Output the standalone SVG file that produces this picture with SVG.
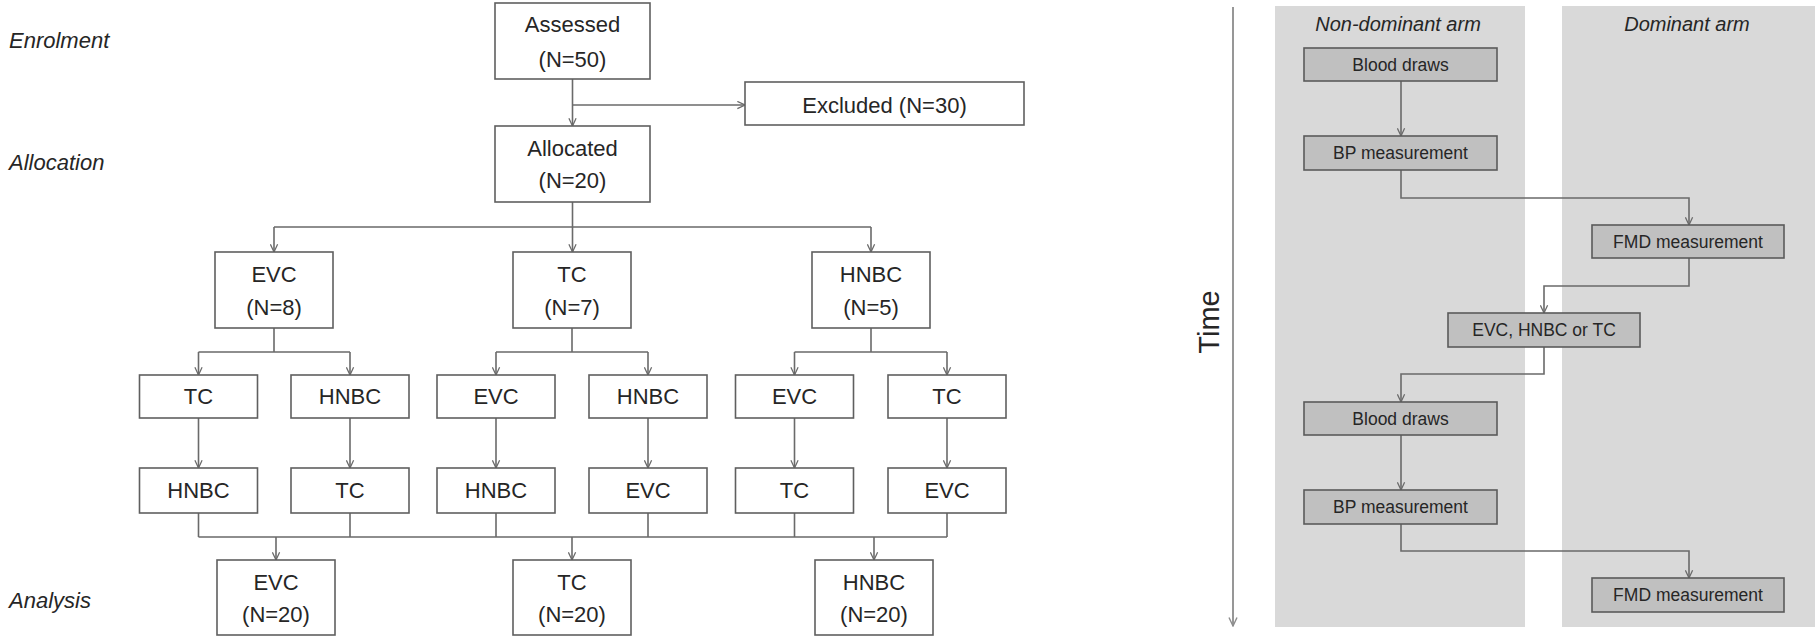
<svg xmlns="http://www.w3.org/2000/svg" width="1815" height="636" viewBox="0 0 1815 636">
<style>
.bg{fill:#ffffff}
.box{fill:#ffffff;stroke:#5f5f5f;stroke-width:1.6}
.gbox{fill:#c0c0c0;stroke:#5a5a5a;stroke-width:1.6}
.lane{fill:#d9d9d9}
.t{font-family:"Liberation Sans",Arial,sans-serif;font-size:22px;fill:#262626;text-anchor:middle}
.ts{font-family:"Liberation Sans",Arial,sans-serif;font-size:17.5px;fill:#262626;text-anchor:middle}
.lab{font-family:"Liberation Sans",Arial,sans-serif;font-size:22px;font-style:italic;fill:#262626}
.lane-lab{font-family:"Liberation Sans",Arial,sans-serif;font-size:20px;font-style:italic;fill:#262626;text-anchor:middle}
.ln{fill:none;stroke:#6a6a6a;stroke-width:1.6}
.la{fill:none;stroke:#6a6a6a;stroke-width:1.6;marker-end:url(#arr)}
.axis{fill:none;stroke:#8c8c8c;stroke-width:1.8;marker-end:url(#arr2)}
</style>
<defs>
<marker id="arr" viewBox="0 0 10 10" refX="9.5" refY="5" markerWidth="9" markerHeight="9" markerUnits="userSpaceOnUse" orient="auto">
<path d="M1,1 L9.5,5 L1,9" fill="none" stroke="#6a6a6a" stroke-width="1.4"/>
</marker>
<marker id="arr2" viewBox="0 0 10 10" refX="9.5" refY="5" markerWidth="10" markerHeight="10" markerUnits="userSpaceOnUse" orient="auto">
<path d="M1,1 L9.5,5 L1,9" fill="none" stroke="#8c8c8c" stroke-width="1.4"/>
</marker>
</defs>
<rect class="bg" x="0" y="0" width="1815" height="636"/>

<g id="stage-labels">
<text class="lab" x="9" y="48">Enrolment</text>
<text class="lab" x="9" y="170">Allocation</text>
<text class="lab" x="9" y="608">Analysis</text>
</g>

<g id="connectors">
<path class="la" d="M572.5,79 V126"/>
<path class="la" d="M572.5,105 H745"/>
<path class="ln" d="M572.5,202 V227 M274,227 H871"/>
<path class="la" d="M274,227 V252"/>
<path class="la" d="M572.5,227 V252"/>
<path class="la" d="M871,227 V252"/>
<path class="ln" d="M274,328 V352 M198.5,352 H350"/>
<path class="ln" d="M572,328 V352 M496,352 H648"/>
<path class="ln" d="M871,328 V352 M794.5,352 H947"/>
<path class="la" d="M198.5,352 V375"/>
<path class="la" d="M350,352 V375"/>
<path class="la" d="M496,352 V375"/>
<path class="la" d="M648,352 V375"/>
<path class="la" d="M794.5,352 V375"/>
<path class="la" d="M947,352 V375"/>
<path class="la" d="M198.5,418 V468"/>
<path class="la" d="M350,418 V468"/>
<path class="la" d="M496,418 V468"/>
<path class="la" d="M648,418 V468"/>
<path class="la" d="M794.5,418 V468"/>
<path class="la" d="M947,418 V468"/>
<path class="ln" d="M198.5,513 V537 M350,513 V537 M496,513 V537 M648,513 V537 M794.5,513 V537 M947,513 V537 M198.5,537 H947"/>
<path class="la" d="M276,537 V560"/>
<path class="la" d="M572,537 V560"/>
<path class="la" d="M874,537 V560"/>
</g>

<g id="assessed"><rect class="box" x="495" y="3" width="155" height="76"/><text class="t" x="572.5" y="32">Assessed</text><text class="t" x="572.5" y="67">(N=50)</text></g>
<g id="excluded"><rect class="box" x="745" y="82" width="279" height="43"/><text class="t" x="884.5" y="113">Excluded (N=30)</text></g>
<g id="allocated"><rect class="box" x="495" y="126" width="155" height="76"/><text class="t" x="572.5" y="156">Allocated</text><text class="t" x="572.5" y="188">(N=20)</text></g>

<g id="evc-n8"><rect class="box" x="215" y="252" width="118" height="76"/><text class="t" x="274" y="282">EVC</text><text class="t" x="274" y="315">(N=8)</text></g>
<g id="tc-n7"><rect class="box" x="513" y="252" width="118" height="76"/><text class="t" x="572" y="282">TC</text><text class="t" x="572" y="315">(N=7)</text></g>
<g id="hnbc-n5"><rect class="box" x="812" y="252" width="118" height="76"/><text class="t" x="871" y="282">HNBC</text><text class="t" x="871" y="315">(N=5)</text></g>

<g id="l3-tc-1"><rect class="box" x="139.5" y="375" width="118" height="43"/><text class="t" x="198.5" y="404">TC</text></g>
<g id="l3-hnbc-1"><rect class="box" x="291" y="375" width="118" height="43"/><text class="t" x="350" y="404">HNBC</text></g>
<g id="l3-evc-2"><rect class="box" x="437" y="375" width="118" height="43"/><text class="t" x="496" y="404">EVC</text></g>
<g id="l3-hnbc-2"><rect class="box" x="589" y="375" width="118" height="43"/><text class="t" x="648" y="404">HNBC</text></g>
<g id="l3-evc-3"><rect class="box" x="735.5" y="375" width="118" height="43"/><text class="t" x="794.5" y="404">EVC</text></g>
<g id="l3-tc-3"><rect class="box" x="888" y="375" width="118" height="43"/><text class="t" x="947" y="404">TC</text></g>

<g id="l4-hnbc-1"><rect class="box" x="139.5" y="468" width="118" height="45"/><text class="t" x="198.5" y="498">HNBC</text></g>
<g id="l4-tc-1"><rect class="box" x="291" y="468" width="118" height="45"/><text class="t" x="350" y="498">TC</text></g>
<g id="l4-hnbc-2"><rect class="box" x="437" y="468" width="118" height="45"/><text class="t" x="496" y="498">HNBC</text></g>
<g id="l4-evc-2"><rect class="box" x="589" y="468" width="118" height="45"/><text class="t" x="648" y="498">EVC</text></g>
<g id="l4-tc-3"><rect class="box" x="735.5" y="468" width="118" height="45"/><text class="t" x="794.5" y="498">TC</text></g>
<g id="l4-evc-3"><rect class="box" x="888" y="468" width="118" height="45"/><text class="t" x="947" y="498">EVC</text></g>

<g id="an-evc"><rect class="box" x="217" y="560" width="118" height="75"/><text class="t" x="276" y="590">EVC</text><text class="t" x="276" y="622">(N=20)</text></g>
<g id="an-tc"><rect class="box" x="513" y="560" width="118" height="75"/><text class="t" x="572" y="590">TC</text><text class="t" x="572" y="622">(N=20)</text></g>
<g id="an-hnbc"><rect class="box" x="815" y="560" width="118" height="75"/><text class="t" x="874" y="590">HNBC</text><text class="t" x="874" y="622">(N=20)</text></g>

<!-- Right panel -->
<g id="time-axis">
<path class="axis" d="M1233,7 V626"/>
<text x="1219" y="322" transform="rotate(-90 1219 322)" font-family="Liberation Sans, Arial, sans-serif" font-size="29" fill="#262626" text-anchor="middle">Time</text>
</g>
<g id="lane-nondominant"><rect class="lane" x="1275" y="6" width="250" height="621"/><text class="lane-lab" x="1398" y="31">Non-dominant arm</text></g>
<g id="lane-dominant"><rect class="lane" x="1562" y="6" width="253" height="621"/><text class="lane-lab" x="1687" y="31">Dominant arm</text></g>

<g id="timeline-connectors">
<path class="la" d="M1401,81 V136"/>
<path class="la" d="M1401,170 V198 H1689 V225"/>
<path class="la" d="M1689,258 V286 H1544 V313"/>
<path class="la" d="M1544,347 V374 H1401 V402"/>
<path class="la" d="M1401,435 V490"/>
<path class="la" d="M1401,524 V551 H1689 V578"/>
</g>

<g id="blood-1"><rect class="gbox" x="1304" y="48" width="193" height="33"/><text class="ts" x="1400.5" y="71">Blood draws</text></g>
<g id="bp-1"><rect class="gbox" x="1304" y="136" width="193" height="34"/><text class="ts" x="1400.5" y="159">BP measurement</text></g>
<g id="fmd-1"><rect class="gbox" x="1592" y="225" width="192" height="33"/><text class="ts" x="1688" y="248">FMD measurement</text></g>
<g id="intervention"><rect class="gbox" x="1448" y="313" width="192" height="34"/><text class="ts" x="1544" y="336">EVC, HNBC or TC</text></g>
<g id="blood-2"><rect class="gbox" x="1304" y="402" width="193" height="33"/><text class="ts" x="1400.5" y="425">Blood draws</text></g>
<g id="bp-2"><rect class="gbox" x="1304" y="490" width="193" height="34"/><text class="ts" x="1400.5" y="513">BP measurement</text></g>
<g id="fmd-2"><rect class="gbox" x="1592" y="578" width="192" height="34"/><text class="ts" x="1688" y="601">FMD measurement</text></g>
</svg>
